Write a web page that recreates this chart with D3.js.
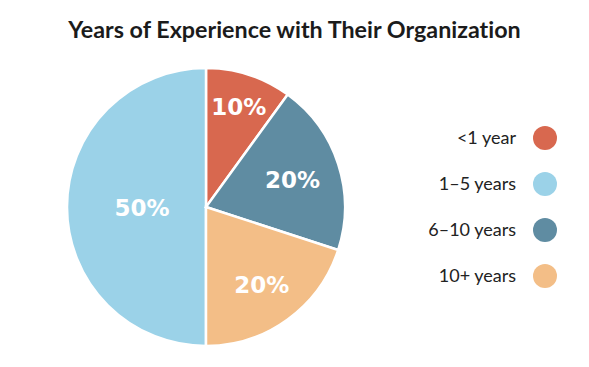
<!DOCTYPE html>
<html>
<head>
<meta charset="utf-8">
<script src="https://cdn.jsdelivr.net/npm/d3@7"></script>
<style>
  body { margin: 0; background: #fff; }
  svg { display: block; }
  text { font-variant-ligatures: none; font-feature-settings: "liga" 0; }
</style>
</head>
<body>
<svg id="chart" width="589" height="367"></svg>
<script>
// data
var categories = ["<1 year", "1\u20135 years", "6\u201310 years", "10+ years"];
var shares = [10, 50, 20, 20];
// clockwise order of the slices starting from 12 o'clock
var pieOrder = ["<1 year", "6\u201310 years", "10+ years", "1\u20135 years"];
var colors = ["#d8684f", "#9bd2e8", "#5f8ca2", "#f3be87"];

var width = 589, height = 367;
var cx = 206, cy = 207, radius = 139;

var svg = d3.select("#chart");

var color = d3.scaleOrdinal()
    .domain(categories)
    .range(colors);

// title
svg.append("text")
    .attr("x", width / 2)
    .attr("y", 38)
    .attr("text-anchor", "middle")
    .style("font-family", "Lato, 'Open Sans', sans-serif")
    .style("font-weight", "bold")
    .style("font-size", "23.3px")
    .style("fill", "#1b1b1b")
    .text("Years of Experience with Their Organization");

var slices = categories.map(function(c, i) { return { name: c, value: shares[i] }; });

var pie = d3.pie()
    .value(function(d) { return d.value; })
    .sort(function(a, b) { return pieOrder.indexOf(a.name) - pieOrder.indexOf(b.name); });

var arc = d3.arc().innerRadius(0).outerRadius(radius);

var g = svg.append("g").attr("transform", "translate(" + cx + "," + cy + ")");

var arcs = pie(slices);

g.selectAll("path")
    .data(arcs).enter().append("path")
      .attr("d", arc)
      .style("fill", function(d) { return color(d.data.name); })
      .style("stroke", "white")
      .style("stroke-width", 2.5);

// label distance from centre, per slice (small slices sit further out)
var labelRadius = { "<1 year": 106, "6\u201310 years": 91, "10+ years": 95, "1\u20135 years": 64 };

g.selectAll(".pct")
    .data(arcs).enter().append("text")
      .attr("class", "pct")
      .attr("transform", function(d) {
        var r = labelRadius[d.data.name];
        var a = (d.startAngle + d.endAngle) / 2;
        return "translate(" + (Math.sin(a) * r) + "," + (-Math.cos(a) * r) + ")";
      })
      .attr("text-anchor", "middle")
      .attr("dy", "0.4em")
      .style("font-family", "'DejaVu Sans', sans-serif")
      .style("font-weight", "bold")
      .style("font-size", "23px")
      .style("fill", "white")
      .text(function(d) { return d.data.value + "%"; });

// legend
var legend = svg.selectAll(".legend")
    .data(categories).enter()
    .append("g")
    .attr("class", "legend")
    .attr("transform", function(d, i) { return "translate(0," + (138 + i * 46) + ")"; });

legend.append("text")
    .attr("x", 516)
    .attr("dy", "0.35em")
    .attr("text-anchor", "end")
    .style("font-family", "Lato, 'Open Sans', sans-serif")
    .style("font-size", "18px")
    .style("fill", "#222")
    .text(function(d) { return d; });

legend.append("circle")
    .attr("cx", 545)
    .attr("r", 12)
    .style("fill", function(d) { return color(d); });
</script>
</body>
</html>
